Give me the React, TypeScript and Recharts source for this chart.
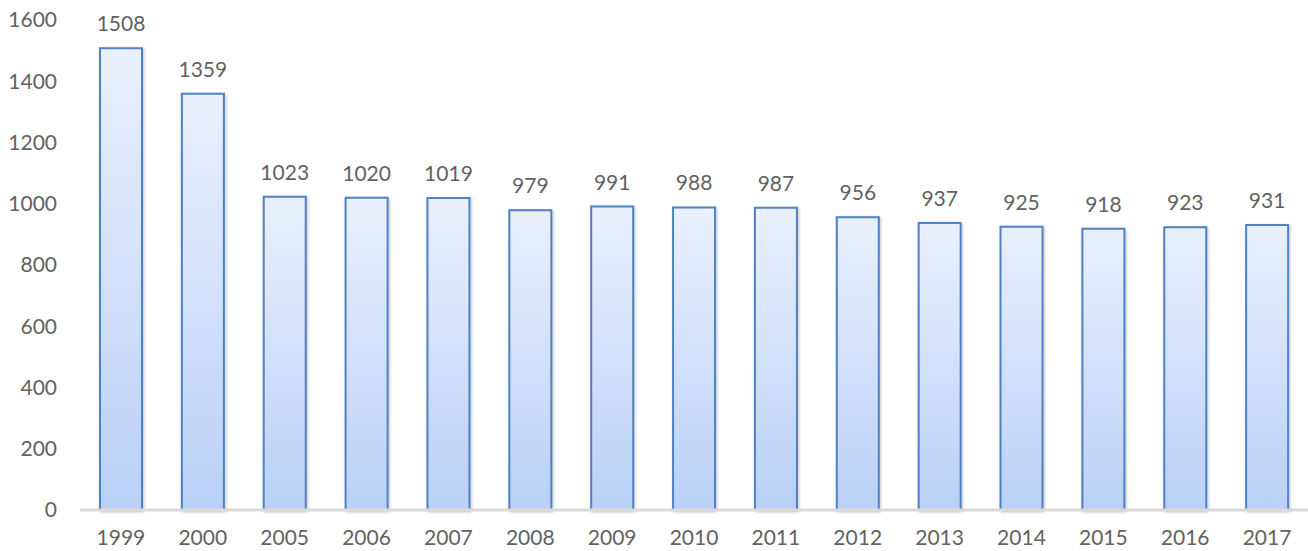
import React from 'react';
import { BarChart, Bar, XAxis, YAxis, LabelList } from 'recharts';

const years = ['1999', '2000', '2005', '2006', '2007', '2008', '2009', '2010', '2011', '2012', '2013', '2014', '2015', '2016', '2017'];
const values = [1508, 1359, 1023, 1020, 1019, 979, 991, 988, 987, 956, 937, 925, 918, 923, 931];
const yTicks = [0, 200, 400, 600, 800, 1000, 1200, 1400, 1600];

const data = years.map((y, i) => ({ year: y, value: values[i] }));

const FONT = 'Lato, "Open Sans", sans-serif';
const GREY = '#626262';

export default function App() {
  return (
    <div style={{ position: 'absolute', left: 0, top: 0, width: 1308, height: 551, background: '#fff' }}>
      <BarChart width={1308} height={551} data={data} margin={{ top: 20, right: 0, bottom: 0, left: 0 }}>
        <defs>
          <linearGradient id="barGrad" x1="0" y1="0" x2="0" y2="1">
            <stop offset="0%" stopColor="#eaf0fd" />
            <stop offset="100%" stopColor="#bad0f7" />
          </linearGradient>
          <filter id="shadow" x="-20%" y="-5%" width="140%" height="110%">
            <feDropShadow dx="1" dy="1" stdDeviation="1.5" floodColor="#000" floodOpacity="0.25" />
          </filter>
        </defs>
        <XAxis
          dataKey="year"
          height={41}
          tickLine={false}
          axisLine={{ stroke: '#d9d9d9', strokeWidth: 3 }}
          tick={{ fill: GREY, fontSize: 21, fontFamily: FONT }}
          tickSize={0}
          tickMargin={20}
          interval={0}
        />
        <YAxis
          width={80}
          domain={[0, 1600]}
          ticks={yTicks}
          axisLine={false}
          tickLine={false}
          tickSize={0}
          tickMargin={23}
          tick={{ fill: GREY, fontSize: 21, fontFamily: FONT }}
          interval={0}
        />
        <Bar
          dataKey="value"
          barSize={42}
          fill="url(#barGrad)"
          stroke="#4f81c4"
          strokeWidth={2}
          isAnimationActive={false}
          style={{ filter: 'url(#shadow)' }}
        >
          <LabelList dataKey="value" position="top" offset={17} fill={GREY} fontSize={21} fontFamily={FONT} />
        </Bar>
      </BarChart>
    </div>
  );
}
